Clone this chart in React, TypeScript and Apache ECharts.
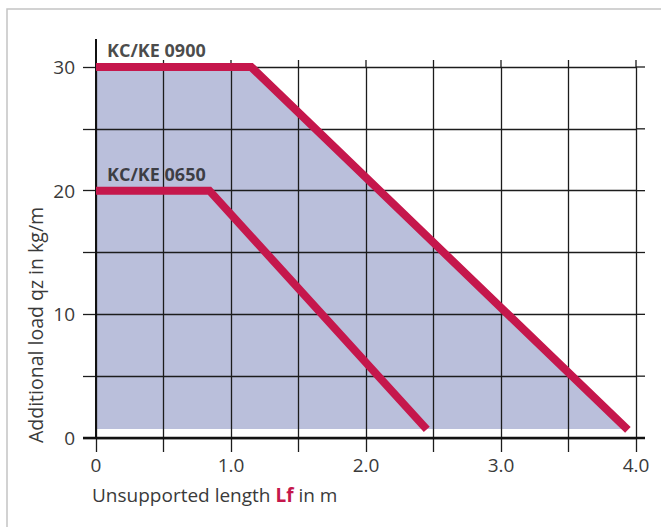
import React, { useEffect, useRef } from 'react';
import * as echarts from 'echarts';

// ---- data ----
const xTicks = [0, 0.5, 1, 1.5, 2, 2.5, 3, 3.5, 4];
const yTicks = [0, 5, 10, 15, 20, 25, 30];
const xTickLabels: Record<string, string> = { '0': '0', '1': '1.0', '2': '2.0', '3': '3.0', '4': '4.0' };
const yTickLabels: Record<string, string> = { '0': '0', '10': '10', '20': '20', '30': '30' };

const seriesNames = ['KC/KE 0900', 'KC/KE 0650'];
const kc0900 = [[0, 30], [1.15, 30], [3.94, 0.65]];
const kc0650 = [[0, 20], [0.84, 20], [2.45, 0.7]];
const shadeBoundary = [[0, 30], [1.15, 30], [3.94, 0.73]];
const shadeBase = 0.73;

const xAxisName = ['Unsupported length ', 'Lf', ' in m'];
const yAxisName = 'Additional load qz in kg/m';

const FONT = '"Open Sans", "Noto Sans", sans-serif';
const CRIMSON = '#c5174c';
const SHADE = '#babfdb';
const GRID = '#1c1c1c';
const TEXT = '#3a3a3a';

export default function App() {
  const ref = useRef<HTMLDivElement>(null);
  useEffect(() => {
    if (!ref.current) return;
    const chart = echarts.init(ref.current, undefined, { renderer: 'svg' });
    const xMin = xTicks[0];
    const xMax = xTicks[xTicks.length - 1];
    const yMin = yTicks[0];
    const yMax = yTicks[yTicks.length - 1];

    const option: any = {
      animation: false,
      backgroundColor: '#ffffff',
      grid: { left: 96, right: 25, top: 67, bottom: 89 },
      xAxis: {
        type: 'value',
        min: xMin,
        max: xMax,
        interval: 0.5,
        z: 3,
        axisLine: { show: false },
        axisTick: { show: true, length: 14, lineStyle: { color: GRID, width: 1.3 } },
        splitLine: { show: true, lineStyle: { color: GRID, width: 1.3 } },
        axisLabel: {
          margin: 17,
          fontFamily: FONT,
          fontSize: 19,
          color: TEXT,
          formatter: (v: number) => xTickLabels[String(v)] ?? '',
        },
      },
      yAxis: {
        type: 'value',
        min: yMin,
        max: yMax,
        interval: 5,
        z: 3,
        axisLine: { show: false },
        axisTick: { show: true, length: 13, lineStyle: { color: GRID, width: 1.3 } },
        splitLine: { show: true, lineStyle: { color: GRID, width: 1.3 } },
        axisLabel: {
          margin: 21,
          fontFamily: FONT,
          fontSize: 19,
          color: TEXT,
          formatter: (v: number) => yTickLabels[String(v)] ?? '',
        },
      },
      graphic: [
        {
          type: 'rect',
          shape: { x: 7, y: 9, width: 700, height: 600 },
          style: { fill: 'none', stroke: '#c4c4c4', lineWidth: 1.5 },
          z: 0,
          silent: true,
        },
        {
          type: 'text',
          x: 35,
          y: 443,
          rotation: Math.PI / 2,
          style: {
            text: yAxisName,
            align: 'left',
            verticalAlign: 'middle',
            fontFamily: FONT,
            fontSize: 19.5,
            fill: TEXT,
          },
        },
        {
          type: 'text',
          x: 92,
          y: 495,
          style: {
            text: `{a|${xAxisName[0]}}{b|${xAxisName[1]}}{a|${xAxisName[2]}}`,
            verticalAlign: 'middle',
            align: 'left',
            rich: {
              a: { fontFamily: FONT, fontSize: 19, fill: TEXT, color: TEXT },
              b: { fontFamily: FONT, fontSize: 19, fontWeight: 'bold', fill: CRIMSON, color: CRIMSON },
            },
          },
        },
      ],
      series: [
        {
          type: 'line',
          z: 1,
          data: shadeBoundary,
          symbol: 'none',
          lineStyle: { width: 0, opacity: 0 },
          areaStyle: { color: SHADE, opacity: 1, origin: shadeBase },
          silent: true,
        },
        {
          type: 'custom',
          z: 4,
          silent: true,
          data: xTicks.filter((v) => v > xMin).map((v) => [v, yMax]),
          encode: { x: 0, y: 1 },
          renderItem: (_p: any, api: any) => {
            const p = api.coord([api.value(0), api.value(1)]);
            return {
              type: 'line',
              shape: { x1: p[0], y1: p[1], x2: p[0], y2: p[1] - 7 },
              style: { stroke: GRID, lineWidth: 1.3 },
            };
          },
        },
        {
          type: 'custom',
          z: 4,
          silent: true,
          data: yTicks.filter((v) => v > yMin).map((v) => [xMax, v]),
          encode: { x: 0, y: 1 },
          renderItem: (_p: any, api: any) => {
            const p = api.coord([api.value(0), api.value(1)]);
            return {
              type: 'line',
              shape: { x1: p[0], y1: p[1], x2: p[0] + 9, y2: p[1] },
              style: { stroke: GRID, lineWidth: 1.3 },
            };
          },
        },
        {
          type: 'custom',
          z: 5,
          silent: true,
          data: [[xMin, yMin]],
          encode: { x: 0, y: 1 },
          renderItem: (_p: any, api: any) => {
            const o = api.coord([xMin, yMin]);
            const e = api.coord([xMax, yMin]);
            const t = api.coord([xMin, yMax]);
            return {
              type: 'group',
              children: [
                {
                  type: 'line',
                  shape: { x1: o[0] - 13, y1: o[1], x2: e[0] + 9, y2: e[1] },
                  style: { stroke: '#111', lineWidth: 2.6 },
                },
                {
                  type: 'line',
                  shape: { x1: o[0], y1: o[1], x2: t[0], y2: t[1] - 28 },
                  style: { stroke: '#111', lineWidth: 2 },
                },
              ],
            };
          },
        },
        {
          name: seriesNames[0],
          type: 'line',
          z: 10,
          data: kc0900,
          symbol: 'none',
          lineStyle: { color: CRIMSON, width: 8, cap: 'butt', join: 'miter' },
          silent: true,
        },
        {
          name: seriesNames[1],
          type: 'line',
          z: 10,
          data: kc0650,
          symbol: 'none',
          lineStyle: { color: CRIMSON, width: 8, cap: 'butt', join: 'miter' },
          silent: true,
        },
        {
          type: 'scatter',
          z: 12,
          silent: true,
          symbolSize: 2,
          itemStyle: { color: 'rgba(0,0,0,0)' },
          data: [
            { name: seriesNames[0], value: kc0900[0] },
            { name: seriesNames[1], value: kc0650[0] },
          ],
          label: {
            show: true,
            formatter: '{b}',
            position: 'right',
            distance: 0,
            offset: [10, -17],
            fontFamily: FONT,
            fontSize: 18,
            fontWeight: 'bold',
            color: '#1a1a1a',
          },
        },
      ],
    };
    chart.setOption(option);
    return () => chart.dispose();
  }, []);
  return (
    <div
      ref={ref}
      style={{ position: 'fixed', left: 0, top: 0, width: 661, height: 527, background: '#fff' }}
    />
  );
}
